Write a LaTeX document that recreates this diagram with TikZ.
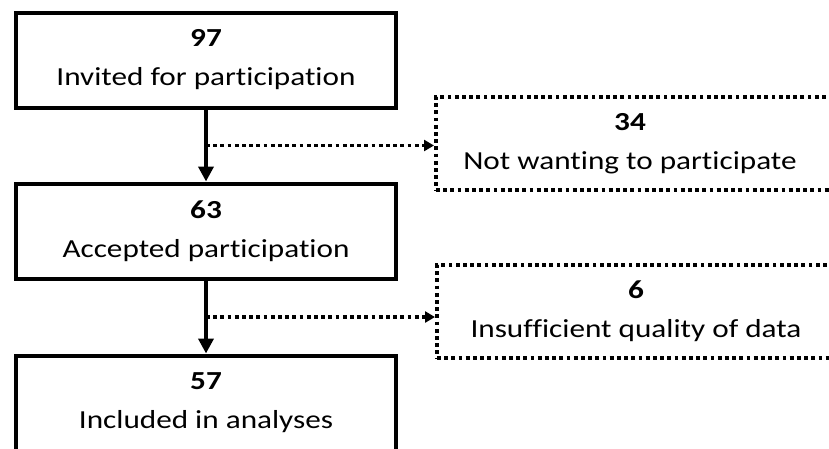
\documentclass[tikz,border=0pt]{standalone}
\usepackage{fontspec}
\setmainfont{Carlito}[FakeStretch=1.2, Ligatures=NoCommon]
\usetikzlibrary{arrows.meta,calc}
\begin{document}
\begin{tikzpicture}[x=1pt, y=-1pt,
    stage/.style={draw, line width=4pt, minimum width=380pt, minimum height=95pt,
              inner sep=0pt, align=center, font=\fontsize{26}{39}\selectfont},
    dropbox/.style={draw, line width=3.8pt, dash pattern=on 3.8pt off 3.4pt,
              anchor=west, minimum width=440pt, minimum height=93pt, inner sep=0pt},
    droptext/.style={inner sep=0pt, align=center, font=\fontsize{26}{39}\selectfont},
    flow/.style={line width=4pt, -{Triangle[length=15pt, width=15pt]}},
    drop/.style={line width=3.8pt, dash pattern=on 3.8pt off 3.4pt,
              -{Triangle[length=10pt, width=11pt]}}]
                \useasboundingbox (0,0) rectangle (829,448);
                \clip (0,0) rectangle (829,448);
                \node[stage] (invited) at (206,60) {\textbf{97}\\Invited for participation};
                \node[stage] (accepted) at (206,231) {\textbf{63}\\Accepted participation};
                \node[stage] (included) at (206,403) {\textbf{57}\\Included in analyses};
                \node[dropbox] (refused) at (434,143.5) {};
                \node[droptext] (refusedtxt) at ([xshift=196pt]refused.west) {\textbf{34}\\Not wanting to participate};
                \node[dropbox] (poordata) at (435,311.5) {};
                \node[droptext] (poordatatxt) at ([xshift=201pt]poordata.west) {\textbf{6}\\Insufficient quality of data};
                \coordinate (split1) at ($(invited.south)!0.5!(accepted.north)$);
                \coordinate (split2) at ($(accepted.south)!0.5!(included.north)$);
                \draw[flow] (invited) -- (accepted);
                \draw[flow] (accepted) -- (included);
                \draw[drop] (split1) -- (split1 -| refused.west);
                \draw[drop] (split2) -- (split2 -| poordata.west);
            \end{tikzpicture}
\end{document}
